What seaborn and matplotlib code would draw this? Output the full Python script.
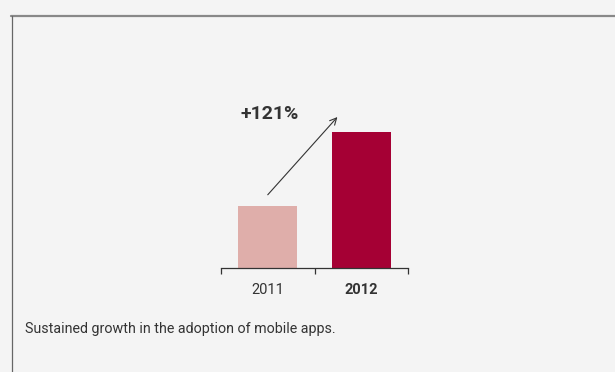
import matplotlib
matplotlib.use("Agg")
import matplotlib.pyplot as plt
import pandas as pd
import seaborn as sns

YEARS = ["2011", "2012"]
ADOPTION = [100, 221]
BAR_COLORS = ["#dfaeaa", "#a50034"]
GROWTH_LABEL = "+121%"
CAPTION = "Sustained growth in the adoption of mobile apps."

BG = "#f4f4f4"
TEXT = "#333333"


def configure_plot_style():
    sns.set_theme(style="white")
    plt.rcParams.update({
        "font.family": ["Roboto", "DejaVu Sans"],
        "figure.facecolor": BG,
        "axes.facecolor": BG,
    })


def main():
    configure_plot_style()
    df = pd.DataFrame({"year": YEARS, "value": ADOPTION})

    fig = plt.figure(figsize=(6.15, 3.72), dpi=100)
    # frame lines of the panel
    fig.add_artist(plt.Line2D([11 / 615, 1.0], [1 - 16 / 372, 1 - 16 / 372],
                              transform=fig.transFigure, color="#888888", lw=1.6))
    fig.add_artist(plt.Line2D([11.5 / 615, 11.5 / 615], [0, 1 - 16 / 372],
                              transform=fig.transFigure, color="#666666", lw=0.9))

    ax = fig.add_axes([221 / 615, 104 / 372, 187 / 615, 168 / 372])
    sns.barplot(data=df, x="year", y="value", hue="year", palette=BAR_COLORS,
                width=0.63, legend=False, ax=ax, saturation=1, linewidth=0)
    ax.set_xlim(-0.5, 1.5)
    ax.set_ylim(0, max(ADOPTION) * 168 / 136)

    for side in ("top", "right", "left"):
        ax.spines[side].set_visible(False)
    ax.spines["bottom"].set_color(TEXT)
    ax.spines["bottom"].set_linewidth(0.9)
    ax.set_yticks([])
    ax.set_xlabel("")
    ax.set_ylabel("")

    ax.set_xticks([-0.5, 0.5, 1.5])
    ax.set_xticklabels([])
    ax.tick_params(axis="x", which="major", direction="out", length=4, width=0.9,
                   color=TEXT, bottom=True)
    ax.set_xticks([0, 1], minor=True)
    ax.set_xticklabels(YEARS, minor=True)
    ax.tick_params(axis="x", which="minor", length=0, pad=11, labelsize=10.5,
                   labelcolor=TEXT)
    ax.get_xticklabels(minor=True)[1].set_fontweight("bold")

    ax.annotate("", xy=(0.745, ADOPTION[1] * 1.11), xytext=(0.0, ADOPTION[0] * 1.19),
                arrowprops=dict(arrowstyle="->", color=TEXT, lw=0.8,
                                shrinkA=0, shrinkB=0), annotation_clip=False)
    ax.text(0.02, ADOPTION[1] * 1.13, GROWTH_LABEL, ha="center", va="center",
            fontsize=14, fontweight="bold", color=TEXT, clip_on=False)

    fig.text(25 / 615, 1 - 329 / 372, CAPTION, ha="left", va="center",
             fontsize=10.3, color=TEXT)

    fig.savefig("out.png", dpi=100, facecolor=BG)
    plt.close(fig)


if __name__ == "__main__":
    main()
